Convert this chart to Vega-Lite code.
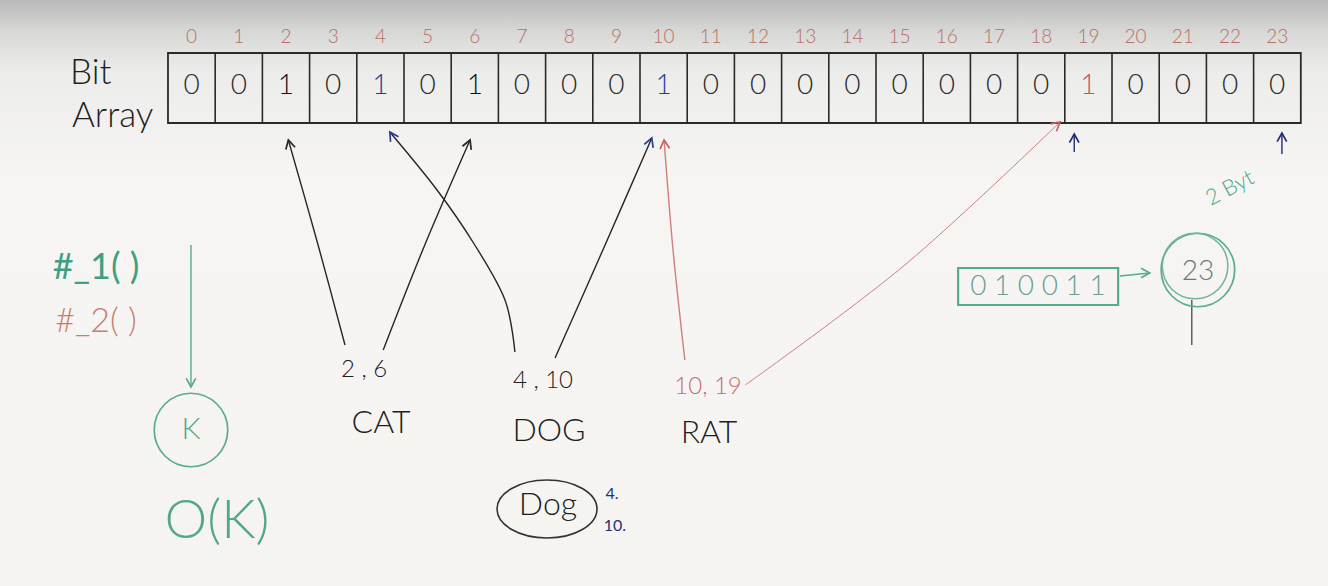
{
  "$schema": "https://vega.github.io/schema/vega-lite/v6.json",
  "width": 1328,
  "height": 586,
  "padding": 0,
  "autosize": {"type": "fit", "contains": "padding"},
  "background": "#f5f4f1",
  "config": {"view": {"stroke": null}, "text": {"font": "Lato"}},
  "resolve": {"scale": {"color": "independent"}},
  "datasets": {
    "bits": [
      {"i": 0, "bit": 0, "setBy": "none"},
      {"i": 1, "bit": 0, "setBy": "none"},
      {"i": 2, "bit": 1, "setBy": "CAT"},
      {"i": 3, "bit": 0, "setBy": "none"},
      {"i": 4, "bit": 1, "setBy": "DOG"},
      {"i": 5, "bit": 0, "setBy": "none"},
      {"i": 6, "bit": 1, "setBy": "CAT"},
      {"i": 7, "bit": 0, "setBy": "none"},
      {"i": 8, "bit": 0, "setBy": "none"},
      {"i": 9, "bit": 0, "setBy": "none"},
      {"i": 10, "bit": 1, "setBy": "DOG"},
      {"i": 11, "bit": 0, "setBy": "none"},
      {"i": 12, "bit": 0, "setBy": "none"},
      {"i": 13, "bit": 0, "setBy": "none"},
      {"i": 14, "bit": 0, "setBy": "none"},
      {"i": 15, "bit": 0, "setBy": "none"},
      {"i": 16, "bit": 0, "setBy": "none"},
      {"i": 17, "bit": 0, "setBy": "none"},
      {"i": 18, "bit": 0, "setBy": "none"},
      {"i": 19, "bit": 1, "setBy": "RAT"},
      {"i": 20, "bit": 0, "setBy": "none"},
      {"i": 21, "bit": 0, "setBy": "none"},
      {"i": 22, "bit": 0, "setBy": "none"},
      {"i": 23, "bit": 0, "setBy": "none"}
    ],
    "arrows": [
      {"id": "A1", "group": "CAT", "ord": 0, "x": 3.25, "y": 345},
      {"id": "A1", "group": "CAT", "ord": 1, "x": 2.68, "y": 245},
      {"id": "A1", "group": "CAT", "ord": 2, "x": 2.05, "y": 140},
      {"id": "A2", "group": "CAT", "ord": 0, "x": 4.06, "y": 350},
      {"id": "A2", "group": "CAT", "ord": 1, "x": 4.94, "y": 245},
      {"id": "A2", "group": "CAT", "ord": 2, "x": 5.9, "y": 140},
      {"id": "A3", "group": "DOG", "ord": 0, "x": 6.85, "y": 352},
      {"id": "A3", "group": "DOG", "ord": 1, "x": 6.64, "y": 300},
      {"id": "A3", "group": "DOG", "ord": 2, "x": 6.0, "y": 245},
      {"id": "A3", "group": "DOG", "ord": 3, "x": 5.2, "y": 190},
      {"id": "A3", "group": "DOG", "ord": 4, "x": 4.2, "y": 132},
      {"id": "A4", "group": "DOG", "ord": 0, "x": 7.7, "y": 358},
      {"id": "A4", "group": "DOG", "ord": 1, "x": 8.76, "y": 245},
      {"id": "A4", "group": "DOG", "ord": 2, "x": 9.75, "y": 138},
      {"id": "A5", "group": "RAT", "ord": 0, "x": 10.45, "y": 360},
      {"id": "A5", "group": "RAT", "ord": 1, "x": 10.2, "y": 250},
      {"id": "A5", "group": "RAT", "ord": 2, "x": 10.01, "y": 140},
      {"id": "A6", "group": "RAT", "ord": 0, "x": 11.73, "y": 385},
      {"id": "A6", "group": "RAT", "ord": 1, "x": 15.11, "y": 265},
      {"id": "A6", "group": "RAT", "ord": 2, "x": 18.4, "y": 122},
      {"id": "A7", "group": "K", "ord": 0, "x": -0.013, "y": 245},
      {"id": "A7", "group": "K", "ord": 1, "x": -0.013, "y": 387},
      {"id": "A8", "group": "byte", "ord": 0, "x": 19.67, "y": 276},
      {"id": "A8", "group": "byte", "ord": 1, "x": 20.3, "y": 273},
      {"id": "A9", "group": "check", "ord": 0, "x": 18.7, "y": 152},
      {"id": "A9", "group": "check", "ord": 1, "x": 18.7, "y": 134},
      {"id": "A10", "group": "check", "ord": 0, "x": 23.1, "y": 154},
      {"id": "A10", "group": "check", "ord": 1, "x": 23.1, "y": 133},
      {"id": "A11", "group": "stem", "ord": 0, "x": 21.19, "y": 300},
      {"id": "A11", "group": "stem", "ord": 1, "x": 21.19, "y": 345}
    ],
    "heads": [
      {"group": "CAT", "x": 2.05, "y": 140, "heading": -14},
      {"group": "CAT", "x": 5.9, "y": 140, "heading": 22},
      {"group": "DOG", "x": 4.2, "y": 132, "heading": -33},
      {"group": "DOG", "x": 9.75, "y": 138, "heading": 21},
      {"group": "RAT", "x": 10.01, "y": 140, "heading": -5},
      {"group": "RAT", "x": 18.4, "y": 122, "heading": 50},
      {"group": "K", "x": -0.013, "y": 387, "heading": 180},
      {"group": "byte", "x": 20.3, "y": 273, "heading": 90},
      {"group": "check", "x": 18.7, "y": 134, "heading": 0},
      {"group": "check", "x": 23.1, "y": 133, "heading": 0}
    ]
  },
  "layer": [
    {
      "data": {"values": [{}]},
      "mark": {
        "type": "rect",
        "color": {
          "gradient": "linear", "x1": 0, "y1": 0, "x2": 0, "y2": 1,
          "stops": [
            {"offset": 0, "color": "#b9b9b9"},
            {"offset": 0.05, "color": "#d6d6d5"},
            {"offset": 0.12, "color": "#ececeb"},
            {"offset": 0.3, "color": "#f6f5f3"},
            {"offset": 1, "color": "#f5f4f1"}
          ]
        }
      },
      "encoding": {
        "x": {"datum": -4.059, "type": "quantitative", "scale": {"domain": [-4.059, 24.076], "nice": false, "zero": false}, "axis": null},
        "x2": {"datum": 24.076},
        "y": {"datum": 0, "type": "quantitative", "scale": {"domain": [0, 586], "reverse": true, "nice": false, "zero": false}, "axis": null},
        "y2": {"datum": 586}
      }
    },
    {
      "data": {"values": [{}]},
      "mark": {"type": "rect", "fill": null, "filled": false, "stroke": "#2a2a2a", "strokeWidth": 1.8},
      "encoding": {
        "x": {"datum": -0.5, "type": "quantitative"},
        "x2": {"datum": 23.5},
        "y": {"datum": 53, "type": "quantitative"},
        "y2": {"datum": 123}
      }
    },
    {
      "data": {"name": "bits"},
      "transform": [{"filter": "datum.i >= 1"}],
      "mark": {"type": "rule", "xOffset": -23.6, "stroke": "#2a2a2a", "strokeWidth": 1.6},
      "encoding": {
        "x": {"field": "i", "type": "quantitative"},
        "y": {"datum": 53, "type": "quantitative"},
        "y2": {"datum": 123}
      }
    },
    {
      "data": {"name": "bits"},
      "mark": {"type": "text", "fontSize": 19, "color": "#b86f63", "fontWeight": 300},
      "encoding": {
        "x": {"field": "i", "type": "quantitative"},
        "y": {"datum": 37, "type": "quantitative"},
        "text": {"field": "i", "type": "nominal"}
      }
    },
    {
      "data": {"name": "bits"},
      "mark": {"type": "text", "fontSize": 28, "fontWeight": 300},
      "encoding": {
        "x": {"field": "i", "type": "quantitative"},
        "y": {"datum": 86, "type": "quantitative"},
        "text": {"field": "bit", "type": "nominal"},
        "color": {"field": "setBy", "type": "nominal", "legend": null,
          "scale": {"domain": ["none", "CAT", "DOG", "RAT"], "range": ["#2b2b2b", "#111111", "#2c3c94", "#c9545a"]}}
      }
    },
    {
      "data": {"name": "arrows"},
      "mark": {"type": "line", "interpolate": "cardinal"},
      "encoding": {
        "x": {"field": "x", "type": "quantitative"},
        "y": {"field": "y", "type": "quantitative"},
        "detail": {"field": "id"},
        "order": {"field": "ord"},
        "strokeWidth": {"condition": {"test": "datum.id === 'A6'", "value": 1}, "value": 1.4},
        "color": {"field": "group", "type": "nominal", "legend": null,
          "scale": {"domain": ["CAT", "DOG", "RAT", "K", "byte", "check", "stem"], "range": ["#262626", "#262626", "#cf7f7a", "#55ab8c", "#55ab8c", "#1f2d78", "#555555"]}}
      }
    },
    {
      "data": {"name": "heads"},
      "mark": {"type": "point", "shape": "M-0.55,1 L0,0 L0.55,1", "filled": false, "size": 300, "strokeWidth": 1.7, "opacity": 1},
      "encoding": {
        "x": {"field": "x", "type": "quantitative"},
        "y": {"field": "y", "type": "quantitative"},
        "angle": {"field": "heading", "type": "quantitative", "scale": null},
        "color": {"field": "group", "type": "nominal", "legend": null,
          "scale": {"domain": ["CAT", "DOG", "RAT", "K", "byte", "check"], "range": ["#262626", "#2c3c94", "#c8605e", "#55ab8c", "#55ab8c", "#1f2d78"]}}
      }
    },
    {
      "data": {"values": [{"label": "K", "x": -0.013, "y": 430}, {"label": "23", "x": 21.32, "y": 270}]},
      "mark": {"type": "point", "shape": "circle", "filled": false, "size": 5400, "strokeWidth": 1.7, "color": "#5aac8e", "opacity": 1},
      "encoding": {
        "x": {"field": "x", "type": "quantitative"},
        "y": {"field": "y", "type": "quantitative"}
      }
    },
    {
      "data": {"values": [{"label": "23", "x": 21.26, "y": 266}]},
      "mark": {"type": "point", "shape": "circle", "filled": false, "size": 4300, "strokeWidth": 1.5, "color": "#6fb59b", "opacity": 1},
      "encoding": {
        "x": {"field": "x", "type": "quantitative"},
        "y": {"field": "y", "type": "quantitative"}
      }
    },
    {
      "data": {"values": [{"label": "Dog", "x": 7.53, "y": 509}]},
      "mark": {"type": "point", "shape": "M-1,0 A1,0.58,0,1,1,1,0 A1,0.58,0,1,1,-1,0 Z", "filled": false, "size": 10000, "strokeWidth": 1.6, "color": "#333333", "opacity": 1},
      "encoding": {
        "x": {"field": "x", "type": "quantitative"},
        "y": {"field": "y", "type": "quantitative"}
      }
    },
    {
      "data": {"values": [{}]},
      "mark": {"type": "rect", "fill": null, "filled": false, "stroke": "#55ab8c", "strokeWidth": 2.2},
      "encoding": {
        "x": {"datum": 16.24, "type": "quantitative"},
        "x2": {"datum": 19.63},
        "y": {"datum": 268, "type": "quantitative"},
        "y2": {"datum": 305}
      }
    },
    {
      "data": {"values": [
        {"text": "Bit", "x": -2.576, "y": 73},
        {"text": "Array", "x": -2.534, "y": 116}
      ]},
      "mark": {"type": "text", "align": "left", "fontSize": 35, "fontWeight": 300, "color": "#1e1e1e"},
      "encoding": {
        "x": {"field": "x", "type": "quantitative"},
        "y": {"field": "y", "type": "quantitative"},
        "text": {"field": "text"}
      }
    },
    {
      "data": {"values": [
        {"text": "2 , 6", "x": 3.653, "y": 370},
        {"text": "4 , 10", "x": 7.445, "y": 381}
      ]},
      "mark": {"type": "text", "fontSize": 24, "fontWeight": 300, "color": "#1e1e1e"},
      "encoding": {
        "x": {"field": "x", "type": "quantitative"},
        "y": {"field": "y", "type": "quantitative"},
        "text": {"field": "text"}
      }
    },
    {
      "data": {"values": [
        {"text": "10, 19", "x": 10.941, "y": 387}
      ]},
      "mark": {"type": "text", "fontSize": 24, "fontWeight": 300, "color": "#c86a6a"},
      "encoding": {
        "x": {"field": "x", "type": "quantitative"},
        "y": {"field": "y", "type": "quantitative"},
        "text": {"field": "text"}
      }
    },
    {
      "data": {"values": [
        {"text": "CAT", "x": 4.013, "y": 423},
        {"text": "DOG", "x": 7.572, "y": 431},
        {"text": "RAT", "x": 10.962, "y": 433},
        {"text": "Dog", "x": 7.55, "y": 505}
      ]},
      "mark": {"type": "text", "fontSize": 32, "fontWeight": 300, "color": "#1e1e1e"},
      "encoding": {
        "x": {"field": "x", "type": "quantitative"},
        "y": {"field": "y", "type": "quantitative"},
        "text": {"field": "text"}
      }
    },
    {
      "data": {"values": [
        {"text": "4.", "x": 8.907, "y": 494},
        {"text": "10.", "x": 8.97, "y": 526}
      ]},
      "mark": {"type": "text", "fontSize": 16, "color": "#23307a"},
      "encoding": {
        "x": {"field": "x", "type": "quantitative"},
        "y": {"field": "y", "type": "quantitative"},
        "text": {"field": "text"}
      }
    },
    {
      "data": {"values": [
        {"text": "#_1( )", "x": -2.025, "y": 268}
      ]},
      "mark": {"type": "text", "fontSize": 36, "color": "#3f9f80"},
      "encoding": {
        "x": {"field": "x", "type": "quantitative"},
        "y": {"field": "y", "type": "quantitative"},
        "text": {"field": "text"}
      }
    },
    {
      "data": {"values": [
        {"text": "#_2( )", "x": -2.025, "y": 322}
      ]},
      "mark": {"type": "text", "fontSize": 34, "fontWeight": 300, "color": "#c4806e"},
      "encoding": {
        "x": {"field": "x", "type": "quantitative"},
        "y": {"field": "y", "type": "quantitative"},
        "text": {"field": "text"}
      }
    },
    {
      "data": {"values": [
        {"text": "K", "x": -0.013, "y": 430, "size": 30},
        {"text": "O(K)", "x": 0.538, "y": 522, "size": 54}
      ]},
      "mark": {"type": "text", "fontWeight": 300, "color": "#4fa887"},
      "encoding": {
        "x": {"field": "x", "type": "quantitative"},
        "y": {"field": "y", "type": "quantitative"},
        "text": {"field": "text"},
        "size": {"field": "size", "type": "quantitative", "scale": null}
      }
    },
    {
      "data": {"values": [
        {"text": "0 1 0 0 1 1", "x": 17.93, "y": 287}
      ]},
      "mark": {"type": "text", "fontSize": 28, "fontWeight": 300, "color": "#6a9f90"},
      "encoding": {
        "x": {"field": "x", "type": "quantitative"},
        "y": {"field": "y", "type": "quantitative"},
        "text": {"field": "text"}
      }
    },
    {
      "data": {"values": [
        {"text": "23", "x": 21.32, "y": 272}
      ]},
      "mark": {"type": "text", "fontSize": 28, "fontWeight": 300, "color": "#5f7f75"},
      "encoding": {
        "x": {"field": "x", "type": "quantitative"},
        "y": {"field": "y", "type": "quantitative"},
        "text": {"field": "text"}
      }
    },
    {
      "data": {"values": [
        {"text": "2 Byt", "x": 21.998, "y": 188}
      ]},
      "mark": {"type": "text", "fontSize": 22, "fontWeight": 300, "angle": -28, "color": "#4fa887"},
      "encoding": {
        "x": {"field": "x", "type": "quantitative"},
        "y": {"field": "y", "type": "quantitative"},
        "text": {"field": "text"}
      }
    }
  ]
}
